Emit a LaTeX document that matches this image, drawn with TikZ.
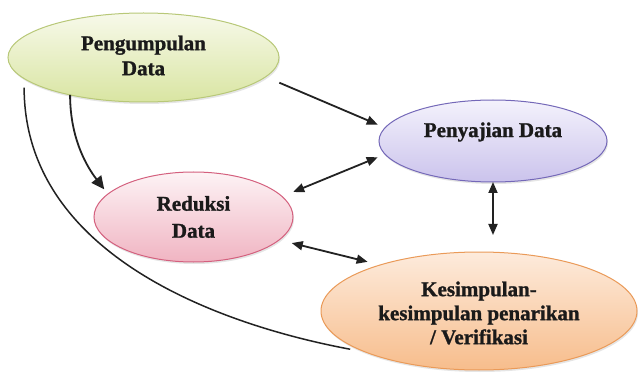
\documentclass[tikz,border=0pt]{standalone}
\usepackage{fontspec}
\setmainfont{Liberation Serif}[BoldFeatures={FakeBold=1.2}]
\usetikzlibrary{shapes.geometric,arrows.meta,shadows}
\definecolor{linec}{HTML}{222222}
\definecolor{txtc}{HTML}{1A1A1A}
\definecolor{pengTop}{HTML}{F7F9EA}
\definecolor{pengBot}{HTML}{D9E5A2}
\definecolor{pengBd}{HTML}{B8C878}
\definecolor{penyTop}{HTML}{F4F2FC}
\definecolor{penyBot}{HTML}{CBC3EC}
\definecolor{penyBd}{HTML}{7468B8}
\definecolor{reduTop}{HTML}{FDF3F5}
\definecolor{reduBot}{HTML}{F0B4C2}
\definecolor{reduBd}{HTML}{D4607E}
\definecolor{kesTop}{HTML}{FDEBDC}
\definecolor{kesBot}{HTML}{F7BD8C}
\definecolor{kesBd}{HTML}{EA9A58}
\tikzset{
  bub/.style={ellipse, inner sep=0pt, outer sep=0pt, line width=1pt,
    drop shadow={opacity=0.2, shadow xshift=1pt, shadow yshift=-2pt}},
  lbl/.style={align=center, text=txtc, inner sep=0pt,
    font=\fontsize{21}{25}\selectfont\bfseries},
  arr/.style={draw=linec, line width=1.8pt, -{Triangle[length=11pt,width=9pt]}},
  dbl/.style={draw=linec, line width=1.8pt, {Triangle[length=11pt,width=9pt]}-{Triangle[length=11pt,width=9pt]}},
  plain/.style={draw=linec, line width=1.5pt}
}
\begin{document}
\begin{tikzpicture}[x=1pt,y=1pt]
\useasboundingbox (0,0) rectangle (641,373);
\fill[white] (0,0) rectangle (641,373);
% ellipses
\node[bub, minimum width=271pt, minimum height=89pt, draw=pengBd, top color=pengTop, bottom color=pengBot] (peng) at (143.5,315.5) {};
\node[bub, minimum width=228pt, minimum height=82pt, draw=penyBd, top color=penyTop, bottom color=penyBot] (peny) at (493,232) {};
\node[bub, minimum width=199pt, minimum height=90pt, draw=reduBd, top color=reduTop, bottom color=reduBot] (redu) at (193.5,156) {};
\node[bub, minimum width=316pt, minimum height=118pt, draw=kesBd, top color=kesTop, bottom color=kesBot] (kes) at (479,62) {};
% labels
\node[lbl] (pengt) at ([yshift=2pt]peng.center) {Pengumpulan\\Data};
\node[lbl] (penyt) at ([yshift=9pt]peny.center) {Penyajian Data};
\node[lbl, font=\fontsize{21}{27}\selectfont\bfseries] (redut) at (redu.center) {Reduksi\\Data};
\node[lbl, font=\fontsize{21}{24}\selectfont\bfseries] (kest) at ([yshift=-2pt]kes.center) {Kesimpulan-\\kesimpulan penarikan\\/ Verifikasi};
% connectors
\draw[arr, shorten <=15pt, shorten >=8pt] (peng.-9) -- (peny.173);
\draw[dbl, shorten <=12pt, shorten >=8pt] (redu.13) -- (peny.187);
\draw[dbl, shorten <=13pt, shorten >=13pt] (redu.-15) -- (kes.155);
\draw[dbl, shorten >=17pt] (peny.south) -- (peny.south |- kes.north);
\draw[arr, -{Triangle[length=13pt,width=12pt]}, shorten >=6pt] (peng.207) .. controls +(0,-45) and +(-20,26) .. (redu.165);
\draw[plain, shorten <=9pt, shorten >=16pt] (peng.190) .. controls +(0,-170) and +(-160,30) .. (kes.200.7);
\end{tikzpicture}
\end{document}
